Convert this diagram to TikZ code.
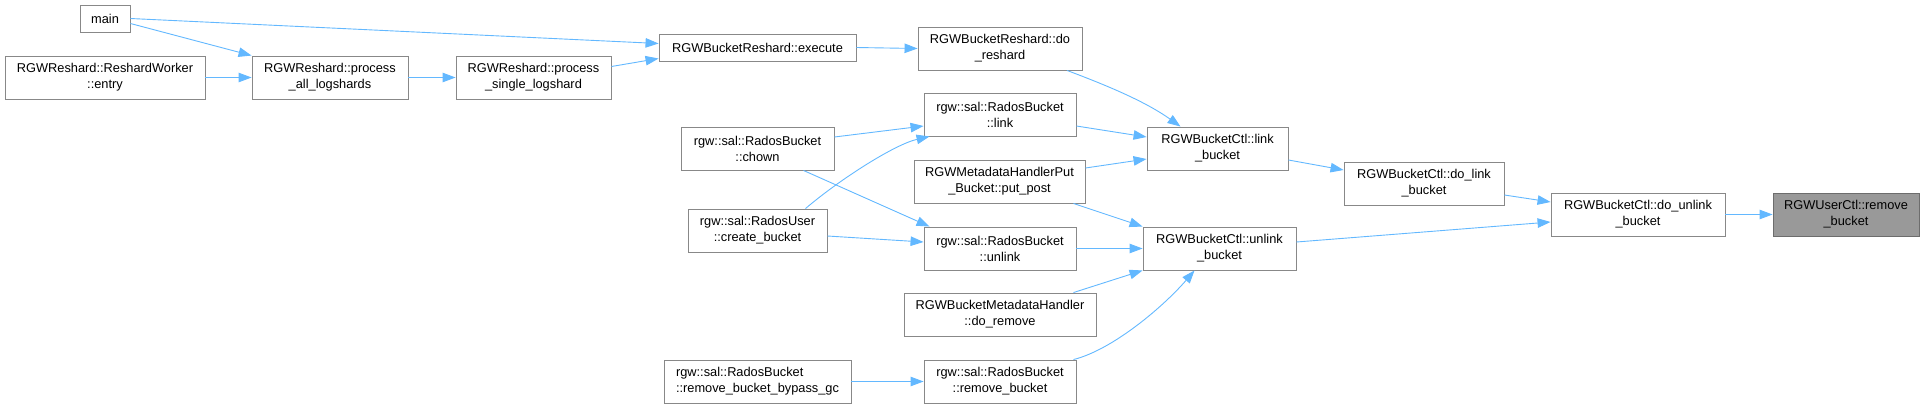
\documentclass[tikz,border=0pt]{standalone}
\usepackage{fontspec}
\setmainfont{Liberation Sans}
\usepackage{tikz}
\usetikzlibrary{arrows.meta, positioning, calc}
\definecolor{CallLine}{HTML}{63B8FF}
\definecolor{BoxLine}{HTML}{888888}
\definecolor{BoxHigh}{HTML}{999999}

\begin{document}
\begin{tikzpicture}[
    x=1pt, y=-1pt,
    fn/.style={
        rectangle, draw=BoxLine, line width=0.9pt, fill=white,
        minimum width=#1, minimum height=43pt, inner sep=0pt,
        font=\fontsize{12.8}{16}\selectfont, align=center
    },
    fn/.default={152pt},
    fnhl/.style={fn=#1, fill=BoxHigh, draw=BoxLine!80!black},
    oneline/.style={minimum height=27pt},
    call/.style={-{Triangle[length=13pt, width=9.5pt]}, CallLine,
        line width=0.9pt}
]
\useasboundingbox (0,0) rectangle (1924,408);

% ===================================================================
% CALLERS (left part)
% ===================================================================
\node[fn=50pt, oneline] (main) at (105,18.5) {main};
\node[fn=200pt] (entry) at (105,77.5) {RGWReshard::ReshardWorker\\::entry};
\node[fn=156pt] (alllog) at (330,77.5) {RGWReshard::process\\\_all\_logshards};
\node[fn=155pt] (singlelog) at (533.5,77.5)
    {RGWReshard::process\\\_single\_logshard};

\node[fn=197pt, oneline] (execute) at (757.5,47.5) {RGWBucketReshard::execute};
\node[fn=153pt] (chown) at (757.5,148.5) {rgw::sal::RadosBucket\\::chown};
\node[fn=139pt] (createbkt) at (757.5,230.5)
    {rgw::sal::RadosUser\\::create\_bucket};
\node[fn=187pt, align=left] (bypassgc) at (757.5,381.5)
    {rgw::sal::RadosBucket\\::remove\_bucket\_bypass\_gc};

% ===================================================================
% MIDDLE COLUMN
% ===================================================================
\node[fn=164pt] (doreshard) at (1000,48.5) {RGWBucketReshard::do\\\_reshard};
\node[fn] (radoslink) at (1000,114.5) {rgw::sal::RadosBucket\\::link};
\node[fn=171pt] (putpost) at (999.5,181.5)
    {RGWMetadataHandlerPut\\\_Bucket::put\_post};
\node[fn] (radosunlink) at (1000,248.5) {rgw::sal::RadosBucket\\::unlink};
\node[fn=192pt] (doremove) at (1000,314.5)
    {RGWBucketMetadataHandler\\::do\_remove};
\node[fn] (radosremove) at (1000,381.5)
    {rgw::sal::RadosBucket\\::remove\_bucket};

% ===================================================================
% BUCKET CONTROL
% ===================================================================
\node[fn=141pt] (linkbkt) at (1217.5,148.5) {RGWBucketCtl::link\\\_bucket};
\node[fn=153pt] (unlinkbkt) at (1219.5,248.5) {RGWBucketCtl::unlink\\\_bucket};
\node[fn=160pt] (dolink) at (1424,183.5) {RGWBucketCtl::do\_link\\\_bucket};
\node[fn=174pt] (dounlink) at (1638,214.5) {RGWBucketCtl::do\_unlink\\\_bucket};
\node[fnhl=146pt] (rmuser) at (1846,214.5) {RGWUserCtl::remove\\\_bucket};

% ===================================================================
% CALLS
% ===================================================================

% reshard chain
\draw[call] (main.east) -- ([yshift=4pt]execute.west);
\draw[call] ([yshift=-5pt]main.east) -- (alllog.north west);
\draw[call] (entry.east) -- (alllog.west);
\draw[call] (alllog.east) -- (singlelog.west);
\draw[call] ([yshift=11pt]singlelog.east) -- ([yshift=-11pt]execute.west);
\draw[call] (execute.east) -- (doreshard.west);
\draw[call] ([xshift=67pt]doreshard.south)
    .. controls ($(doreshard.south)+(107,15)$)
    and ($(linkbkt.north)+(-72,-25)$) .. ([xshift=-37pt]linkbkt.north);

% rados bucket / user
\draw[call] ([yshift=11.5pt]chown.east) -- ([yshift=-11.5pt]radoslink.west);
\draw[call] ([xshift=48pt]createbkt.north)
    .. controls ($(createbkt.north)+(82,-29)$)
    and ($(radoslink.south west)+(-29,8)$) .. ([xshift=6pt]radoslink.south west);
\draw[call] ([xshift=46pt]chown.south) -- ([xshift=6pt]radosunlink.north west);
\draw[call] ([yshift=-5.5pt]createbkt.east) -- ([yshift=6.5pt]radosunlink.west);
\draw[call] (bypassgc.east) -- (radosremove.west);

% into link / unlink
\draw[call] ([yshift=-11.5pt]radoslink.east) -- ([yshift=11.5pt]linkbkt.west);
\draw[call] ([yshift=13.5pt]putpost.east) -- ([yshift=-10.5pt]linkbkt.west);
\draw[call] ([xshift=-12pt]putpost.south east) -- (unlinkbkt.north west);
\draw[call] (radosunlink.east) -- (unlinkbkt.west);
\draw[call] ([xshift=-23pt]doremove.north east) -- (unlinkbkt.south west);
\draw[call] ([xshift=-3pt]radosremove.north east)
    .. controls ($(radosremove.north east)+(37,-10)$)
    and ($(unlinkbkt.south)+(-55,35)$) .. ([xshift=-25pt]unlinkbkt.south);

% bucket control
\draw[call] ([yshift=-11.5pt]linkbkt.east) -- ([yshift=13.5pt]dolink.west);
\draw[call] ([yshift=-11.5pt]dolink.east) -- ([yshift=12.5pt]dounlink.west);
\draw[call] ([yshift=6.5pt]unlinkbkt.east) -- ([yshift=-7.5pt]dounlink.west);
\draw[call] (dounlink.east) -- (rmuser.west);

\end{tikzpicture}
\end{document}
